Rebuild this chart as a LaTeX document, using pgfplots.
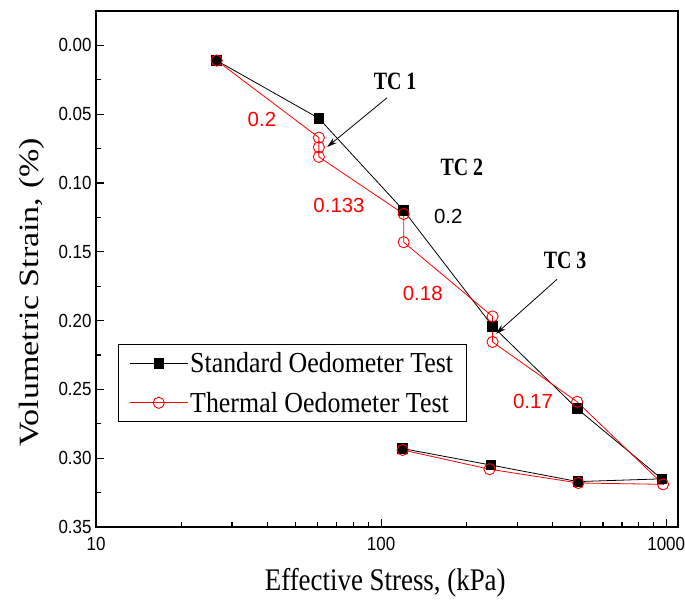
\documentclass[border=0pt]{standalone}
\usepackage{fontspec}
\setmainfont{Liberation Serif}
\newfontfamily\arial{Liberation Sans}
\usepackage{graphicx}
\usepackage{pgfplots}
\pgfplotsset{compat=1.18}
\usetikzlibrary{arrows.meta}
\newcommand\sv[2]{\scalebox{1}[#1]{#2}}
\newcommand\sh[2]{\scalebox{#1}[1]{#2}}
\begin{document}
\begin{tikzpicture}
\useasboundingbox (-96bp,-83bp) rectangle (589bp,527bp);
\begin{axis}[
  at={(0,0)}, anchor=south west,
  scale only axis, width=582bp, height=516bp,
  xmode=log, xmin=10, xmax=1100,
  ymin=-0.025, ymax=0.35, y dir=reverse,
  clip=false,
  axis line style={line width=1.3bp},
  xtick={10,100,1000},
  xticklabels={\sv{1.12}{10},\sv{1.12}{100},\sv{1.12}{1000}},
  xticklabel style={yshift=-7bp},
  minor xtick={20,30,40,50,60,70,80,90,200,300,400,500,600,700,800,900},
  ytick={0,0.05,0.10,0.15,0.20,0.25,0.30,0.35},
  yticklabels={\sv{1.12}{0.00},\sv{1.12}{0.05},\sv{1.12}{0.10},\sv{1.12}{0.15},\sv{1.12}{0.20},\sv{1.12}{0.25},\sv{1.12}{0.30},\sv{1.12}{0.35}},
  yticklabel style={xshift=-1bp},
  minor ytick={0.025,0.075,0.125,0.175,0.225,0.275,0.325},
  tick align=inside, xtick pos=bottom, ytick pos=left,
  major tick length=8bp, minor tick length=5bp,
  tick style={line width=1.1bp, black},
  ticklabel style={font=\arial\fontsize{17}{19}\selectfont},
  xlabel={\sv{1.17}{Effective Stress, (kPa)}},
  xlabel style={font=\fontsize{27}{30}\selectfont, at={(axis description cs:0.497,-0.108)}, anchor=center},
  ylabel={\sh{1.22}{Volumetric Strain, (\%)}},
  ylabel style={font=\fontsize{28}{30}\selectfont, at={(axis description cs:-0.110,0.455)}, anchor=center},
  legend style={at={(axis description cs:0.0378,0.3547)}, anchor=north west,
    draw=black, line width=0.8bp, fill=white,
    font=\fontsize{26}{28}\selectfont, cells={anchor=west},
    inner xsep=11bp, inner ysep=6bp, row sep=14bp},
  legend image code/.code={
    \draw[#1, mark repeat=2, mark phase=2] plot coordinates {(0bp,0bp) (29bp,0bp) (58bp,0bp)};
  },
]
\addplot[black, line width=0.8bp, mark=square*, mark size=4.8bp, mark options={fill=black}]
  coordinates {(26.5,0.011) (60.5,0.053) (120,0.120) (246,0.204) (487,0.264) (965,0.315) (490,0.317) (243,0.305) (119,0.293)};
\addlegendentry{\sv{1.12}{Standard Oedometer Test}}
\addplot[red, line width=0.8bp, mark=o, mark size=5.6bp, mark options={fill=white, line width=0.9bp}]
  coordinates {(26.5,0.011) (60.5,0.067) (60.5,0.074) (60.5,0.081) (120,0.1225) (120,0.143) (246,0.197) (246,0.2155) (487,0.259) (975,0.319) (492,0.318) (240,0.308) (119,0.294)};
\addlegendentry{\sv{1.12}{Thermal Oedometer Test}}

\node[font=\bfseries\fontsize{20}{22}\selectfont] at (axis cs:112,0.0263) {\sv{1.25}{TC 1}};
\node[font=\bfseries\fontsize{20}{22}\selectfont] at (axis cs:192,0.0884) {\sv{1.25}{TC 2}};
\node[font=\bfseries\fontsize{20}{22}\selectfont] at (axis cs:442,0.156) {\sv{1.25}{TC 3}};
\draw[line width=0.8bp, -{Stealth[length=10bp,width=6bp]}] (axis cs:105,0.038) -- (axis cs:64.7,0.0738);
\draw[line width=0.8bp, -{Stealth[length=10bp,width=6bp]}] (axis cs:414,0.170) -- (axis cs:253,0.2096);
\node[font=\arial\fontsize{20.5}{22}\selectfont, text=red] at (axis cs:38.2,0.054) {0.2};
\node[font=\arial\fontsize{20.5}{22}\selectfont, text=red] at (axis cs:71.2,0.116) {0.133};
\node[font=\arial\fontsize{20.5}{22}\selectfont, text=black] at (axis cs:172,0.124) {0.2};
\node[font=\arial\fontsize{20.5}{22}\selectfont, text=red] at (axis cs:140,0.180) {0.18};
\node[font=\arial\fontsize{20.5}{22}\selectfont, text=red] at (axis cs:341,0.2586) {0.17};
\end{axis}
\end{tikzpicture}
\end{document}
